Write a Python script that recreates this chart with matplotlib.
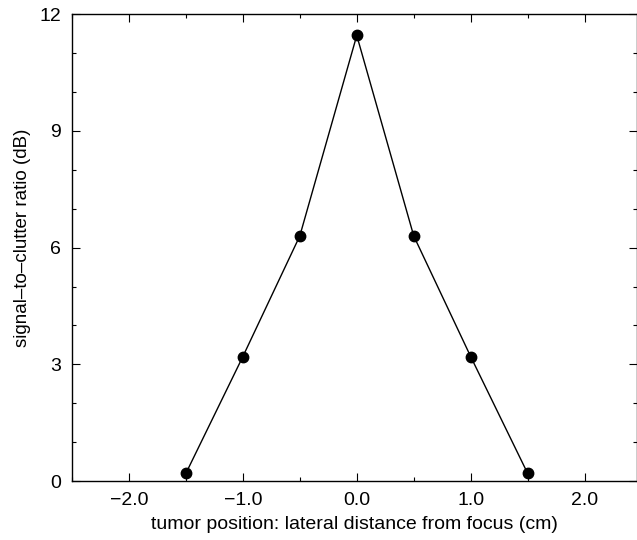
import matplotlib
matplotlib.use('Agg')
import matplotlib.pyplot as plt
from matplotlib.ticker import MultipleLocator

# data
positions = [-1.5, -1.0, -0.5, 0.0, 0.5, 1.0, 1.5]
scr_db = [0.2, 3.2, 6.3, 11.45, 6.3, 3.2, 0.2]
x_ticks = [-2.0, -1.0, 0.0, 1.0, 2.0]
x_labels = ['\u22122.0', '\u22121.0', '0.0', '1.0', '2.0']
y_ticks = [0, 3, 6, 9, 12]

plt.rcParams['font.family'] = ['Liberation Sans', 'DejaVu Sans']

fig = plt.figure(figsize=(6.37, 5.4), dpi=100)
ax = fig.add_axes([0.113, 0.109, 0.887, 0.865])

ax.plot(positions, scr_db, color='black', linewidth=1.0,
        marker='o', markersize=7.5, markerfacecolor='black')

ax.set_xlim(-2.5, 2.46)
ax.set_ylim(0, 12)
ax.set_xticks(x_ticks)
ax.set_xticklabels(x_labels)
ax.set_yticks(y_ticks)
ax.xaxis.set_minor_locator(MultipleLocator(0.5))
ax.yaxis.set_minor_locator(MultipleLocator(1))
ax.tick_params(which='both', direction='in', top=True, right=True,
               labelsize=14, width=0.8, pad=8)
ax.tick_params(which='major', length=6)
ax.tick_params(which='minor', length=3)
for s in ax.spines.values():
    s.set_linewidth(1.0)

ax.set_xlabel('tumor position: lateral distance from focus (cm)', fontsize=14)
ax.set_ylabel('signal\u2013to\u2013clutter ratio (dB)', fontsize=13.5)
ax.xaxis.set_label_coords(0.5, -0.075)
ax.yaxis.set_label_coords(-0.072, 0.52)

plt.savefig('out.png')
